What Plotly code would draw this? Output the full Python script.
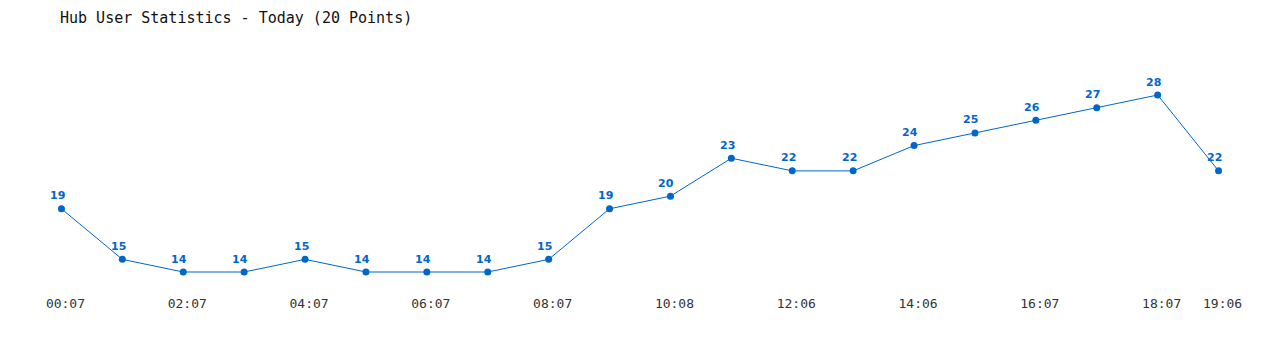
import plotly.graph_objects as go

times = ["00:07", "01:07", "02:07", "03:07", "04:07", "05:07", "06:07", "07:07",
         "08:07", "09:07", "10:08", "11:08", "12:06", "13:06", "14:06", "15:06",
         "16:07", "17:07", "18:07", "19:06"]
users = [19, 15, 14, 14, 15, 14, 14, 14, 15, 19, 20, 23, 22, 22, 24, 25, 26, 27, 28, 22]
shown_ticks = ["00:07", "02:07", "04:07", "06:07", "08:07", "10:08", "12:06",
               "14:06", "16:07", "18:07", "19:06"]

idx = list(range(len(times)))
tickvals = [i for i, t in enumerate(times) if t in shown_ticks]
ticktext = [times[i] for i in tickvals]

blue = "#0066cc"

fig = go.Figure(go.Scatter(
    x=idx, y=users, mode="lines+markers",
    line=dict(color=blue, width=1),
    marker=dict(color=blue, size=7),
    hoverinfo="x+y",
))

for i, v in zip(idx, users):
    fig.add_annotation(x=i, y=v, text=str(v), showarrow=False,
                       xshift=-4, yshift=13,
                       font=dict(family="DejaVu Sans", size=11, color=blue, weight="bold"))

fig.update_layout(
    width=1280, height=350,
    margin=dict(l=31, r=31, t=50, b=60),
    paper_bgcolor="white", plot_bgcolor="white",
    showlegend=False,
    title=dict(text="Hub User Statistics - Today (20 Points)",
               x=60/1280, xanchor="left", xref="container",
               y=1 - 18/350, yanchor="middle", yref="container",
               font=dict(family="DejaVu Sans Mono", size=15, color="#111111")),
    xaxis=dict(range=[-0.5, 19.5], tickvals=tickvals, ticktext=ticktext,
               showgrid=False, zeroline=False, showline=False, ticks="",
               ticklabelshift=4, ticklabelstandoff=4,
               tickfont=dict(family="DejaVu Sans Mono", size=13, color="#333333")),
    yaxis=dict(range=[12.576, 31.56], showgrid=False, zeroline=False,
               showline=False, showticklabels=False, ticks=""),
)

fig.write_html("out.html")
